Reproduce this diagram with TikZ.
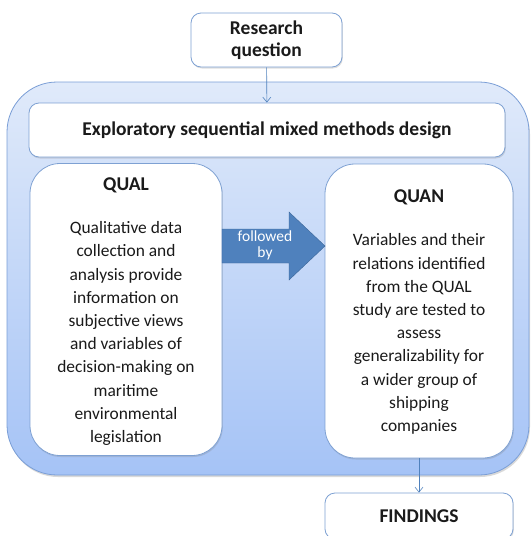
\documentclass[tikz,border=0pt]{standalone}
\usepackage{fontspec}
\setmainfont{Carlito}
\usetikzlibrary{arrows.meta,positioning,shadows}

\definecolor{frameblue}{HTML}{7A9ED6}
\definecolor{frametop}{HTML}{E0EAFA}
\definecolor{framebottom}{HTML}{A5C3F6}
\definecolor{boxblue}{HTML}{7EA1D3}
\definecolor{arrowfill}{HTML}{4F81BD}
\definecolor{arrowedge}{HTML}{3A6598}
\definecolor{textdark}{HTML}{1A1A1A}

\begin{document}
\begin{tikzpicture}[x=1pt, y=-1pt, node distance=1.0cm and 0.8cm,
    block/.style={rectangle, rounded corners=10pt, draw=boxblue, thick, fill=white, align=center, text=textdark, font=\fontsize{19.5}{22}\selectfont\bfseries, drop shadow={opacity=0.25, shadow xshift=0.8pt, shadow yshift=-1.5pt}},
    tall/.style={block, rounded corners=30pt},
    title/.style={text=textdark, font=\fontsize{19.5}{22}\selectfont\bfseries},
    body/.style={align=center, text=textdark, font=\fontsize{17.4}{23.2}\selectfont},
    line/.style={draw=arrowfill, semithick, -{Straight Barb[length=5pt, width=8pt]}}]

    \useasboundingbox (0,0) rectangle (531,536);

    % outer design frame
    \draw [draw=frameblue, thick, rounded corners=50pt, top color=frametop, bottom color=framebottom, drop shadow={opacity=0.3, shadow xshift=1pt, shadow yshift=-2pt}] (7,82) rectangle (529,475);

    \node [block, minimum width=151pt, minimum height=54pt] (question) at (266.5,40) {Research\\question};
    \node [block, minimum width=476pt, minimum height=54pt] (design) at (267,130) {Exploratory sequential mixed methods design};
    \node [tall, minimum width=192pt, minimum height=292pt] (qual) at (126,309.5) {};
    \node [tall, minimum width=188pt, minimum height=294pt] (quan) at (419,311) {};
    \node [block, minimum width=188pt, minimum height=46pt] (findings) at (419,516) {FINDINGS};

    \node [title] (qualtitle) at (126,185) {QUAL};
    \node [body] (qualtext) at (126,333.5) {Qualitative data\\collection and\\analysis provide\\information on\\subjective views\\and variables of\\decision-making on\\maritime\\environmental\\legislation};
    \node [title] (quantitle) at (419,197) {QUAN};
    \node [body] (quantext) at (419,334) {Variables and their\\relations identified\\from the QUAL\\study are tested to\\assess\\generalizability for\\a wider group of\\shipping\\companies};

    % followed by arrow
    \draw [draw=arrowedge, fill=arrowfill] (222,229) -- (289,229) -- (289,212) -- (325,246) -- (289,280) -- (289,263) -- (222,263) -- cycle;
    \node [align=center, text=white, font=\fontsize{15.5}{16}\selectfont] (followed) at (265,245) {followed\\by};

    \path [line] (question) -- (design);
    \path [line] (quan) -- (findings);
\end{tikzpicture}
\end{document}
